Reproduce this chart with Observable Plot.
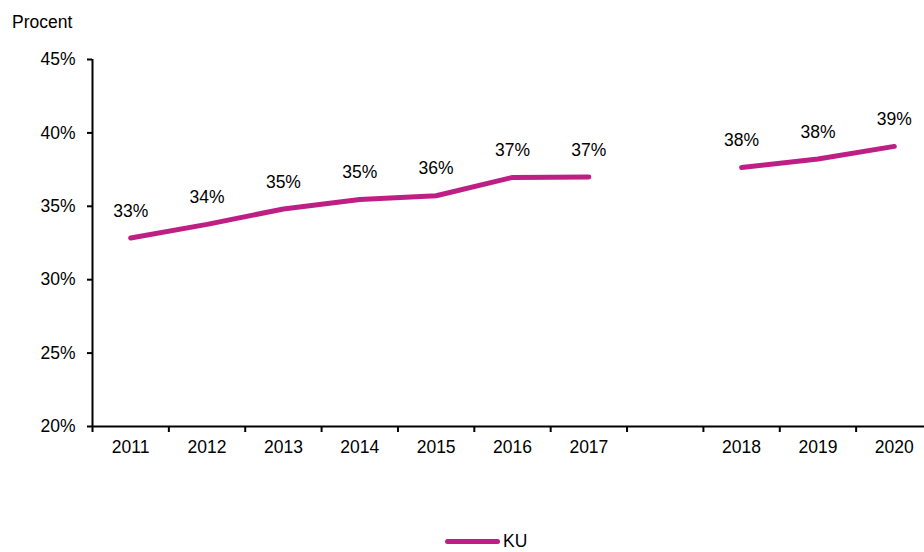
<!DOCTYPE html>
<html>
<head>
<meta charset="utf-8">
<script src="https://cdn.jsdelivr.net/npm/d3@7"></script>
<script src="https://cdn.jsdelivr.net/npm/@observablehq/plot@0.6"></script>
<style>
  html, body { margin: 0; padding: 0; background: #fff; }
  body { width: 924px; height: 552px; overflow: hidden; position: relative; font-family: "Liberation Sans", Arial, sans-serif; color: #000; }
  #title { position: absolute; left: 12px; top: 12px; font-size: 17.5px; }
  #chart { position: absolute; left: 0; top: 40px; width: 932px; }
  #chart svg { max-width: none !important; }
  #legend { position: absolute; left: 445px; top: 531px; font-size: 17.5px; display: flex; align-items: center; gap: 3px; }
  #legend .sw { display: inline-block; width: 55px; height: 5px; border-radius: 3px; background: #BE1F84; }
</style>
</head>
<body>
<div id="title">Procent</div>
<div id="chart"></div>
<div id="legend"><span class="sw"></span><span>KU</span></div>
<script>
const years = ["2011","2012","2013","2014","2015","2016","2017","2018","2019","2020"];
const values = [32.84, 33.77, 34.82, 35.47, 35.72, 36.97, 36.99, 37.65, 38.22, 39.08];
const labels = ["33%","34%","35%","35%","36%","37%","37%","38%","38%","39%"];
const segments = ["A","A","A","A","A","A","A","B","B","B"];
const yTicks = [20, 25, 30, 35, 40, 45];
const color = "#BE1F84";

// slot position: one empty category slot between 2017 and 2018
const slot = (i) => (i < 7 ? i : i + 1);
const data = years.map((y, i) => ({year: y, pos: slot(i), value: values[i], label: labels[i], seg: segments[i]}));
const boundaries = d3.range(-0.5, 11, 1);

const chart = Plot.plot({
  width: 932,
  height: 436,
  marginTop: 19,
  marginBottom: 50,
  marginLeft: 92,
  marginRight: 0,
  style: {fontFamily: "Liberation Sans, Arial, sans-serif", fontSize: "17.5px", color: "#000", background: "#fff", overflow: "visible", maxWidth: "none"},
  x: {type: "linear", domain: [-0.5, 10.5]},
  y: {domain: [20, 45]},
  marks: [
    Plot.axisY(yTicks, {tickSize: 5, tickPadding: 12, strokeWidth: 2, tickFormat: d => d + "%", label: null}),
    Plot.axisX(boundaries, {tickSize: 6, strokeWidth: 2, tickFormat: () => "", label: null}),
    Plot.axisX(data.map(d => d.pos), {tickSize: 0, tickPadding: 14, tickFormat: p => (data.find(d => d.pos === p) || {}).year, label: null}),
    Plot.ruleX([-0.5], {strokeWidth: 2, stroke: "#000"}),
    Plot.ruleY([20], {strokeWidth: 2, stroke: "#000"}),
    Plot.line(data, {x: "pos", y: "value", z: "seg", stroke: color, strokeWidth: 5, strokeLinecap: "round", strokeLinejoin: "round"}),
    Plot.text(data, {x: "pos", y: "value", text: "label", dy: -27, fill: "#000"})
  ]
});
document.getElementById("chart").appendChild(chart);
</script>
</body>
</html>
